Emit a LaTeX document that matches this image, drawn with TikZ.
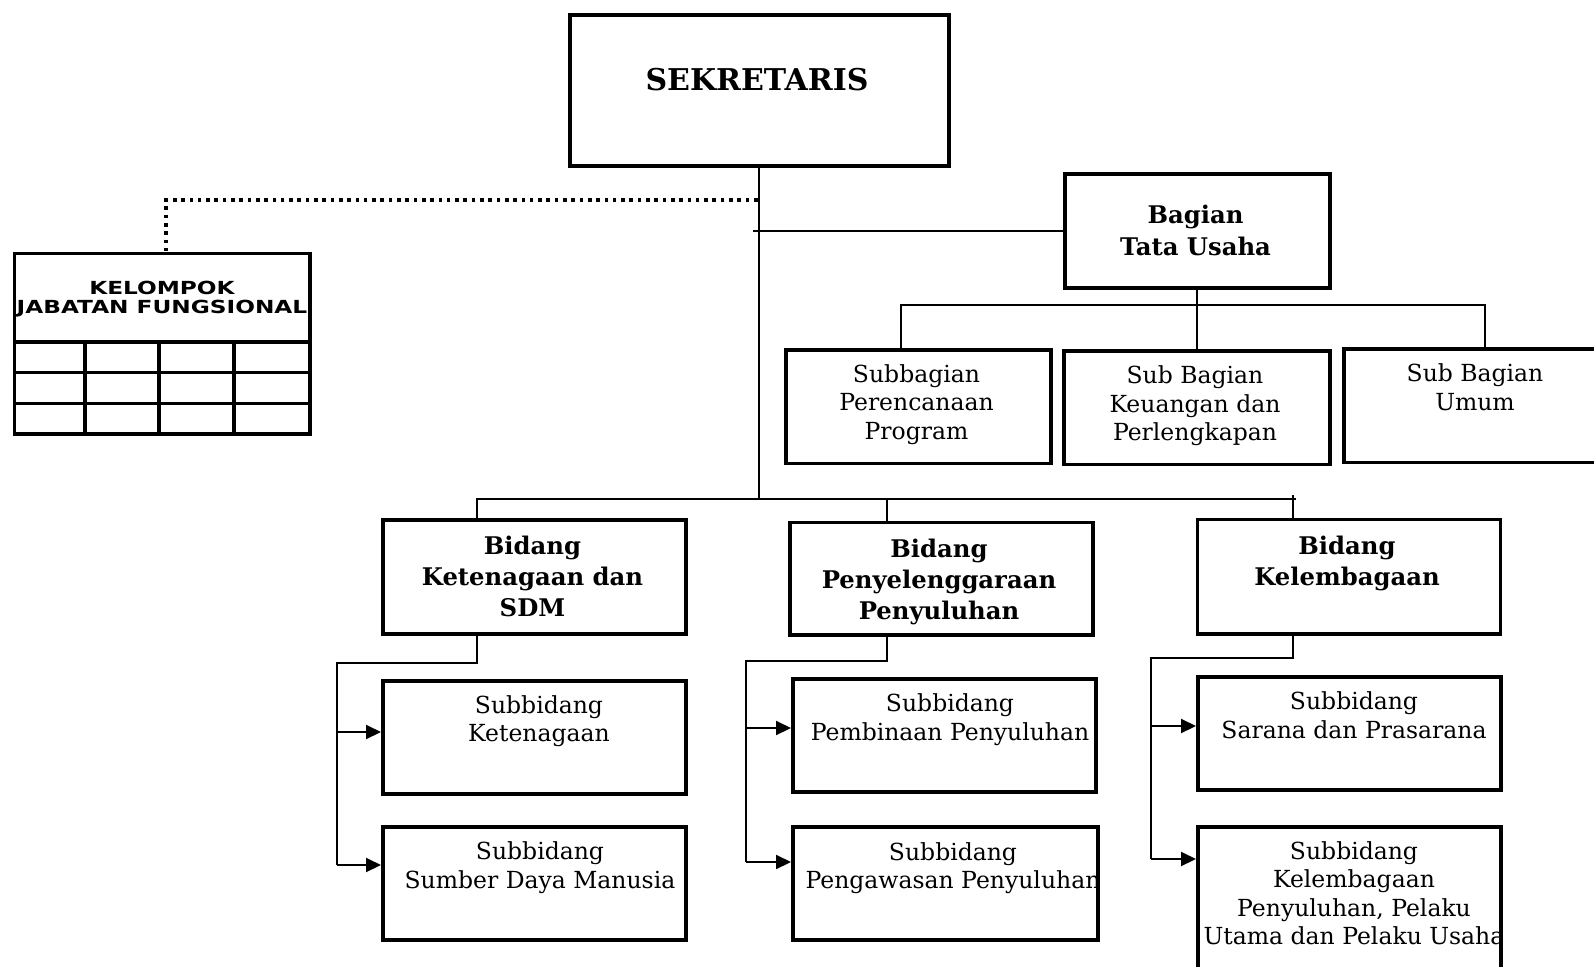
\documentclass[tikz,border=0pt]{standalone}
\usepackage{fontspec}
\setmainfont{DejaVu Serif}
\newfontfamily\kfont{DejaVu Sans}
\usetikzlibrary{arrows.meta,calc}
\newcommand\tl[1]{\begin{tabular}[t]{@{}c@{}}#1\end{tabular}}
\newcommand\bx[5]{\node[box, anchor=north west, minimum width={#4-#2}, minimum height={#5-#3}] (#1) at (#2,#3) {};}
\tikzset{
  box/.style={draw, line width=3.9pt, inner sep=0pt, rectangle},
  conn/.style={line width=2pt},
  arr/.style={conn, -{Triangle[length=15pt,width=14pt]}},
  dots/.style={line width=3.6pt, dash pattern=on 3.6pt off 4.7pt},
  txt/.style={inner sep=0pt, anchor=base, font=\fontsize{23.5}{28.5}\selectfont},
  btxt/.style={inner sep=0pt, anchor=base, font=\fontsize{24.3}{31}\selectfont\bfseries},
}
\begin{document}
\begin{tikzpicture}[x=1pt,y=-1pt]
\useasboundingbox (0,0) rectangle (1594,966);
\clip (0,0) rectangle (1594,966);
\fill[white] (0,0) rectangle (1594,966);
% boxes
\bx{sek}{568}{13}{947}{164}
\bx{kjf}{12.5}{251.5}{308}{432}
\bx{tu}{1063}{172}{1328}{286}
\bx{pp}{784}{348}{1049}{461.5}
\bx{ku}{1062}{349}{1328}{462.5}
\bx{um}{1342}{347}{1640}{460.5}
\bx{b1}{381}{518}{684}{632}
\bx{b2}{788}{520.5}{1091}{633}
\bx{b3}{1195.5}{517.5}{1498.5}{632}
\bx{s11}{381}{679}{684}{792}
\bx{s12}{381}{825}{684}{938}
\bx{s21}{791}{677}{1094}{790}
\bx{s22}{791}{825}{1096}{938}
\bx{s31}{1196}{675}{1499}{788}
\bx{s32}{1196}{825}{1499}{1000}
% kelompok grid
\draw[line width=3.6pt] (kjf.west |- 0,342) -- (kjf.east |- 0,342);
\draw[line width=3pt] (kjf.west |- 0,372) -- (kjf.east |- 0,372);
\draw[line width=3pt] (kjf.west |- 0,403) -- (kjf.east |- 0,403);
\foreach \cx in {85,159,234} \draw[line width=3.6pt] (\cx,342) -- (\cx,432);
% texts
\node[inner sep=0pt, anchor=base, font=\fontsize{30}{36}\selectfont\bfseries] (sekt) at (757,90) {SEKRETARIS};
\node[inner sep=0pt, anchor=base, font=\kfont\bfseries\fontsize{18}{19}\selectfont] (kjft) at (162,294) {\scalebox{1.29}[1]{\tl{KELOMPOK\\JABATAN FUNGSIONAL}}};
\node[btxt, font=\fontsize{24.3}{32.5}\selectfont\bfseries] (tut) at (1195.5,223) {\tl{Bagian\\Tata Usaha}};
\node[txt] (ppt) at (916.5,382) {\tl{Subbagian\\Perencanaan\\Program}};
\node[txt] (kut) at (1195,383.5) {\tl{Sub Bagian\\Keuangan dan\\Perlengkapan}};
\node[txt] (umt) at (1475,381.5) {\tl{Sub Bagian\\Umum}};
\node[btxt] (b1t) at (532.5,554) {\tl{Bidang\\Ketenagaan dan\\SDM}};
\node[btxt] (b2t) at (939,557) {\tl{Bidang\\Penyelenggaraan\\Penyuluhan}};
\node[btxt] (b3t) at (1347,554) {\tl{Bidang\\Kelembagaan}};
\node[txt] (s11t) at (539,713) {\tl{Subbidang\\Ketenagaan}};
\node[txt] (s12t) at (540,859.5) {\tl{Subbidang\\Sumber Daya Manusia}};
\begin{scope}
\clip (s21.north west) rectangle (s21.south east);
\node[txt] (s21t) at (950,711.5) {\tl{Subbidang\\Pembinaan Penyuluhan}};
\end{scope}
\begin{scope}
\clip (s22.north west) rectangle (s22.south east);
\node[txt] (s22t) at (953,860) {\tl{Subbidang\\Pengawasan Penyuluhan}};
\end{scope}
\node[txt] (s31t) at (1354,709.5) {\tl{Subbidang\\Sarana dan Prasarana}};
\begin{scope}
\clip (s32.north west) rectangle (s32.south east);
\node[txt] (s32t) at (1354,859) {\tl{Subbidang\\Kelembagaan\\Penyuluhan, Pelaku\\Utama dan Pelaku Usaha}};
\end{scope}
% connectors
\coordinate (jd) at (757.5,200);
\draw[dots] (jd) -| ([xshift=4pt]kjf.north);
\coordinate (bar) at (757.5,499);
\draw[conn] (sek.south) -- (sek.south |- bar);
\coordinate (tuj) at (753,231);
\draw[conn] (tuj) -- (tuj -| tu.west);
\coordinate (sbL) at (901,305);
\coordinate (sbR) at (1485,305);
\draw[conn] (tu.south) -- (tu.south |- ku.north);
\draw[conn] (pp.north -| sbL) -- (sbL) -- (sbR) -- (sbR |- um.north);
\coordinate (bL) at (477,499);
\coordinate (bM) at (887,499);
\coordinate (bR) at (1292.5,499);
\draw[conn] (bL |- b1.north) -- (bL) -- ([xshift=3pt]bR);
\draw[conn] (bM) -- (bM |- b2.north);
\draw[conn] ([yshift=4pt]bR) -- (bR |- b3.north);
% bidang 1
\coordinate (k1) at (477,663);
\coordinate (k1L) at (337,663);
\coordinate (a11) at (337,732);
\coordinate (a12) at (337,865);
\draw[conn] (k1 |- b1.south) -- (k1) -- (k1L) -- (a12);
\draw[arr] (a11) -- (a11 -| s11.west);
\draw[arr] (a12) -- (a12 -| s12.west);
% bidang 2
\coordinate (k2) at (887,661);
\coordinate (k2L) at (746,661);
\coordinate (a21) at (746,728);
\coordinate (a22) at (746,862);
\draw[conn] (k2 |- b2.south) -- (k2) -- (k2L) -- (a22);
\draw[arr] (a21) -- (a21 -| s21.west);
\draw[arr] (a22) -- (a22 -| s22.west);
% bidang 3
\coordinate (k3) at (1292.5,658);
\coordinate (k3L) at (1151,658);
\coordinate (a31) at (1151,726);
\coordinate (a32) at (1151,859);
\draw[conn] (k3 |- b3.south) -- (k3) -- (k3L) -- (a32);
\draw[arr] (a31) -- (a31 -| s31.west);
\draw[arr] (a32) -- (a32 -| s32.west);
\end{tikzpicture}
\end{document}
